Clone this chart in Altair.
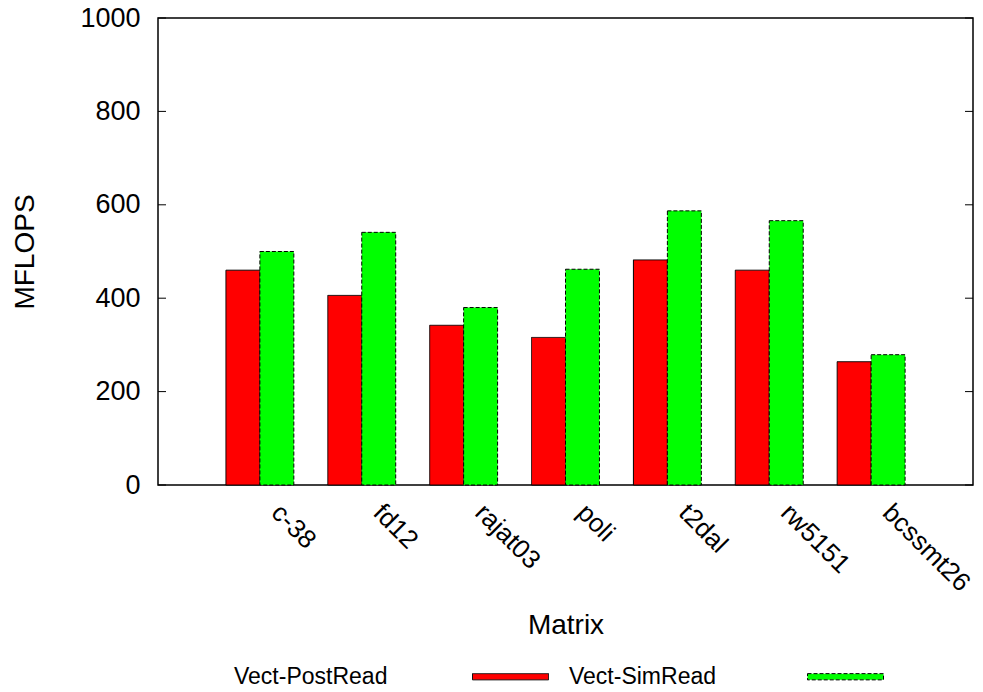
import altair as alt
import pandas as pd

categories = ["c-38", "fd12", "rajat03", "poli", "t2dal", "rw5151", "bcssmt26"]
series_names = ["Vect-PostRead", "Vect-SimRead"]
post_read = [460, 406, 342, 316, 482, 460, 264]
sim_read = [500, 541, 380, 462, 587, 566, 279]
y_ticks = [0, 200, 400, 600, 800, 1000]

rows = []
for c, a, b in zip(categories, post_read, sim_read):
    rows.append({"Matrix": c, "series": series_names[0], "MFLOPS": a})
    rows.append({"Matrix": c, "series": series_names[1], "MFLOPS": b})
df = pd.DataFrame(rows)
ticks_df = pd.DataFrame({"v": y_ticks})

W, H = 815, 467
FONT = "Liberation Sans"

yscale = alt.Scale(domain=[0, 1000], nice=False, zero=True)

bars = alt.Chart(df).mark_bar(stroke="black", strokeWidth=1).encode(
    x=alt.X("Matrix:N", sort=categories,
            scale=alt.Scale(paddingInner=1/3, paddingOuter=2/3),
            axis=alt.Axis(labelAngle=45, labelAlign="left", labelBaseline="top",
                          labelPadding=14, labelOffset=25, ticks=False, tickSize=0,
                          domain=False, labelFontSize=26, labelFont=FONT,
                          labelColor="black",
                          title="Matrix", titleFontSize=28, titleFont=FONT,
                          titleFontWeight="normal", titleColor="black",
                          titleX=407.5, titleY=148, titleBaseline="alphabetic",
                          titleAlign="center")),
    xOffset=alt.XOffset("series:N", sort=series_names,
                        scale=alt.Scale(paddingInner=0, paddingOuter=0)),
    y=alt.Y("MFLOPS:Q", scale=yscale,
            axis=alt.Axis(values=y_ticks, format="d", ticks=False, tickSize=0,
                          domain=False, grid=False, labelPadding=18,
                          labelFontSize=27, labelFont=FONT, labelColor="black",
                          title="MFLOPS", titleFontSize=28, titleFont=FONT,
                          titleFontWeight="normal", titleColor="black",
                          titleX=-125, titleY=H / 2, titleBaseline="alphabetic",
                          titleAngle=-90, titleAlign="center")),
    fill=alt.Fill("series:N", sort=series_names,
                  scale=alt.Scale(domain=series_names, range=["#ff0000", "#00ff00"]),
                  legend=alt.Legend(
                      title=None, orient="none", legendX=75, legendY=620,
                      direction="horizontal", columns=2, columnPadding=17,
                      symbolType="M-1,-0.0822L1,-0.0822L1,0.0822L-1,0.0822Z",
                      symbolSize=5776, symbolStrokeColor="black",
                      symbolStrokeWidth=1, symbolOpacity=1,
                      labelAlign="left", labelOffset={"expr": "-315"},
                      symbolOffset=239,
                      labelFontSize=23, labelFont=FONT, labelColor="black",
                      labelLimit=400)),
    strokeDash=alt.StrokeDash("series:N", sort=series_names,
                              scale=alt.Scale(domain=series_names,
                                              range=[[1, 0], [4, 2]]),
                              legend=alt.Legend(title=None)),
)

left_ticks = alt.Chart(ticks_df).mark_rule(color="black", strokeWidth=1).encode(
    y=alt.Y("v:Q", scale=yscale), x=alt.value(0), x2=alt.value(8))
right_ticks = alt.Chart(ticks_df).mark_rule(color="black", strokeWidth=1).encode(
    y=alt.Y("v:Q", scale=yscale), x=alt.value(W - 8), x2=alt.value(W))

chart = alt.layer(bars, left_ticks, right_ticks).properties(
    width=W, height=H, background="white",
    autosize=alt.AutoSizeParams(type="none"),
    padding={"left": 150, "top": 10, "right": 2, "bottom": 199},
).configure_view(stroke="black", strokeWidth=1.5)

chart.save("out.html", embed_options={"renderer": "svg", "actions": False})
